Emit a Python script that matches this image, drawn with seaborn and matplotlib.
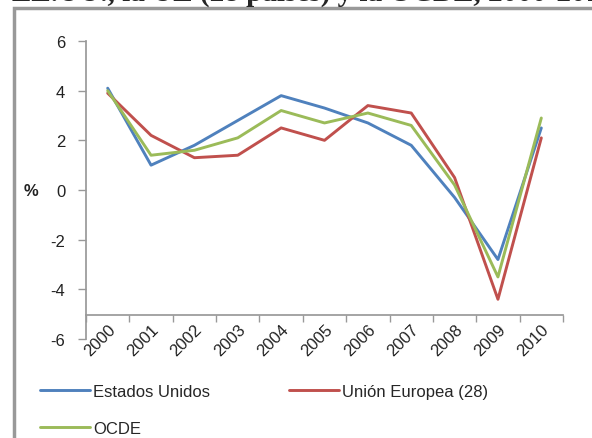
import seaborn as sns
import pandas as pd
import numpy as np
import matplotlib.pyplot as plt
from matplotlib.patches import Rectangle

sns.set_theme(style="white")
plt.rcParams['font.family'] = ['Liberation Sans', 'DejaVu Sans']
plt.rcParams['axes.unicode_minus'] = False

# datos
anios = ["2000", "2001", "2002", "2003", "2004", "2005",
         "2006", "2007", "2008", "2009", "2010"]
estados_unidos = [4.1, 1.0, 1.8, 2.8, 3.8, 3.3, 2.7, 1.8, -0.3, -2.8, 2.5]
union_europea = [3.9, 2.2, 1.3, 1.4, 2.5, 2.0, 3.4, 3.1, 0.5, -4.4, 2.1]
ocde = [4.0, 1.4, 1.6, 2.1, 3.2, 2.7, 3.1, 2.6, 0.2, -3.5, 2.9]

series = ["Estados Unidos", "Unión Europea (28)", "OCDE"]
colores = ["#4F81BD", "#C0504D", "#9BBB59"]

df = pd.DataFrame({"anio": anios * 3,
                   "valor": estados_unidos + union_europea + ocde,
                   "serie": np.repeat(series, len(anios))})
df["pos"] = df["anio"].map({a: i + 0.5 for i, a in enumerate(anios)})

fig = plt.figure(figsize=(5.92, 4.39), dpi=100)
ax = fig.add_axes([86 / 592, 1 - 340 / 439, (563 - 86) / 592, (340 - 42) / 439])

sns.lineplot(data=df, x="pos", y="valor", hue="serie", hue_order=series,
             palette=colores, linewidth=2.1, ax=ax, legend=True)

# ejes (la posicion del eje x se fija antes de las etiquetas)
for s in ["top", "right"]:
    ax.spines[s].set_visible(False)
ax.spines["left"].set_color("#999999")
ax.spines["bottom"].set_color("#999999")
ax.spines["bottom"].set_position(("data", -5.05))

ax.set_xlim(0, 11)
ax.set_ylim(-6, 6)
ax.set_yticks(range(-6, 7, 2))

# etiquetas en el centro de cada categoria, marcas en los bordes
ax.set_xticks([i + 0.5 for i in range(11)])
ax.set_xticklabels(anios)
ax.tick_params(axis="x", which="major", length=0, pad=4, bottom=True,
               labelsize=12, labelcolor="#222222")
ax.set_xticks(range(0, 12), minor=True)
ax.tick_params(axis="x", which="minor", length=5, width=1, color="#999999",
               direction="out", bottom=True)
ax.tick_params(axis="y", length=6, width=1, color="#999999", left=True,
               labelsize=12, labelcolor="#222222", pad=9)
plt.setp(ax.get_xticklabels(), rotation=45, ha="right",
         rotation_mode="anchor")

ax.set_xlabel("")
ax.set_ylabel("%", rotation=0, fontsize=12, fontweight="bold",
              color="#222222", labelpad=14, va="center")

handles, labels = ax.get_legend_handles_labels()
orden = [0, 2, 1]
ax.legend([handles[i] for i in orden], [labels[i] for i in orden], ncol=2,
          frameon=False, fontsize=12, loc="upper left",
          bbox_to_anchor=(40 / 592, 1 - 385 / 439),
          bbox_transform=fig.transFigure, handlelength=3.0,
          handletextpad=0.2, columnspacing=4.7, labelspacing=1.3,
          borderaxespad=0, borderpad=0)

# marco y titulo recortado
fig.patches.append(Rectangle((14 / 592, -0.1), 1.2, 1 - 9 / 439 + 0.1,
                             transform=fig.transFigure, fill=False,
                             edgecolor="#999999", linewidth=2.5))
fig.text(12 / 592, 1 - 1 / 439, "EE.UU., la UE (28 países) y la OCDE, 2000-2010",
         fontsize=21, fontweight="bold", family="Liberation Serif",
         ha="left", va="baseline")

fig.savefig("out.png", dpi=100)
